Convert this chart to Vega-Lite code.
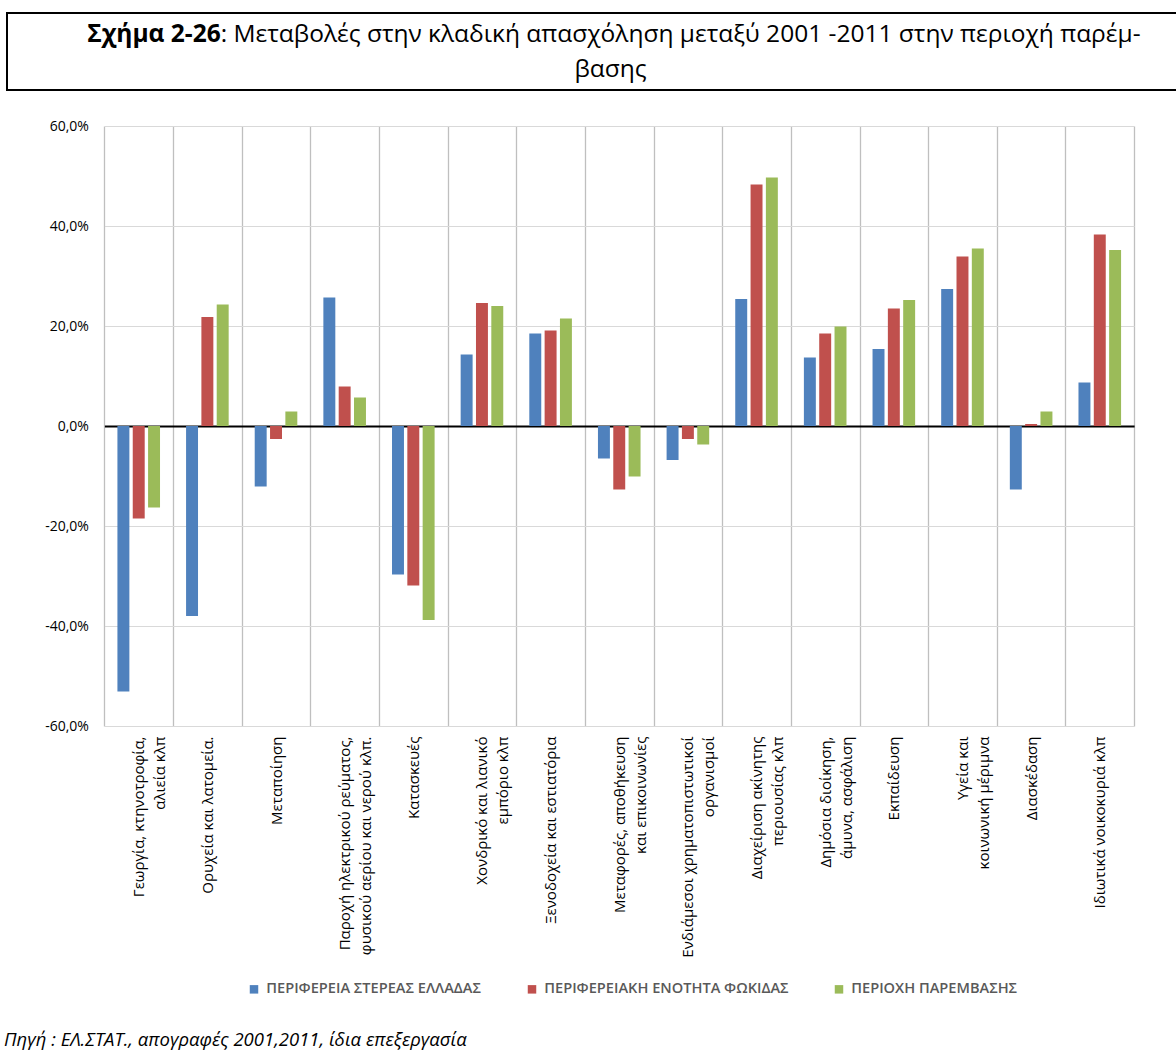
{
  "$schema": "https://vega.github.io/schema/vega-lite/v6.json",
  "padding": {"left": 0, "top": 12, "right": 0, "bottom": 2},
  "background": "white",
  "spacing": 28,
  "title": {
    "text": "Πηγή : ΕΛ.ΣΤΑΤ., απογραφές 2001,2011, ίδια επεξεργασία",
    "orient": "bottom", "anchor": "start", "fontStyle": "italic", "fontWeight": "normal",
    "fontSize": 18.5, "font": "Open Sans", "color": "black", "offset": 35, "dx": 4
  },
  "config": {
    "locale": {"number": {"decimal": ",", "thousands": ".", "grouping": [3], "currency": ["", " €"], "minus": "-"}},
    "font": "Open Sans",
    "view": {"stroke": null}
  },
  "vconcat": [
    {
      "width": 1171,
      "height": 77,
      "view": {"stroke": "black", "strokeWidth": 2},
      "layer": [
        {
          "data": {"values": [{"t": "Σχήμα 2-26"}]},
          "mark": {"type": "text", "fontSize": 24.5, "fontWeight": "bold", "font": "Open Sans", "color": "black", "align": "right", "baseline": "middle", "dy": -17, "dx": -371.8},
          "encoding": {"text": {"field": "t"}}
        },
        {
          "data": {"values": [{"t": ": Μεταβολές στην κλαδική απασχόληση μεταξύ 2001 -2011 στην περιοχή παρέμ-"}]},
          "mark": {"type": "text", "fontSize": 24.5, "font": "Open Sans", "color": "black", "align": "left", "baseline": "middle", "dy": -17, "dx": -371.8},
          "encoding": {"text": {"field": "t"}}
        },
        {
          "data": {"values": [{"t": "βασης"}]},
          "mark": {"type": "text", "fontSize": 24.5, "font": "Open Sans", "color": "black", "align": "center", "baseline": "middle", "dy": 18, "dx": 18},
          "encoding": {"text": {"field": "t"}}
        }
      ]
    },
    {
      "width": 1131,
      "height": 600,
      "data": {"values": [
        {"cat": "Γεωργία, κτηνοτροφία,|αλιεία κλπ", "series": "ΠΕΡΙΦΕΡΕΙΑ ΣΤΕΡΕΑΣ ΕΛΛΑΔΑΣ", "value": -0.531},
        {"cat": "Γεωργία, κτηνοτροφία,|αλιεία κλπ", "series": "ΠΕΡΙΦΕΡΕΙΑΚΗ ΕΝΟΤΗΤΑ ΦΩΚΙΔΑΣ", "value": -0.185},
        {"cat": "Γεωργία, κτηνοτροφία,|αλιεία κλπ", "series": "ΠΕΡΙΟΧΗ ΠΑΡΕΜΒΑΣΗΣ", "value": -0.163},
        {"cat": "Ορυχεία και λατομεία.", "series": "ΠΕΡΙΦΕΡΕΙΑ ΣΤΕΡΕΑΣ ΕΛΛΑΔΑΣ", "value": -0.380},
        {"cat": "Ορυχεία και λατομεία.", "series": "ΠΕΡΙΦΕΡΕΙΑΚΗ ΕΝΟΤΗΤΑ ΦΩΚΙΔΑΣ", "value": 0.218},
        {"cat": "Ορυχεία και λατομεία.", "series": "ΠΕΡΙΟΧΗ ΠΑΡΕΜΒΑΣΗΣ", "value": 0.243},
        {"cat": "Μεταποίηση", "series": "ΠΕΡΙΦΕΡΕΙΑ ΣΤΕΡΕΑΣ ΕΛΛΑΔΑΣ", "value": -0.121},
        {"cat": "Μεταποίηση", "series": "ΠΕΡΙΦΕΡΕΙΑΚΗ ΕΝΟΤΗΤΑ ΦΩΚΙΔΑΣ", "value": -0.026},
        {"cat": "Μεταποίηση", "series": "ΠΕΡΙΟΧΗ ΠΑΡΕΜΒΑΣΗΣ", "value": 0.029},
        {"cat": "Παροχή ηλεκτρικού ρεύματος,|φυσικού αερίου και νερού κλπ.", "series": "ΠΕΡΙΦΕΡΕΙΑ ΣΤΕΡΕΑΣ ΕΛΛΑΔΑΣ", "value": 0.257},
        {"cat": "Παροχή ηλεκτρικού ρεύματος,|φυσικού αερίου και νερού κλπ.", "series": "ΠΕΡΙΦΕΡΕΙΑΚΗ ΕΝΟΤΗΤΑ ΦΩΚΙΔΑΣ", "value": 0.079},
        {"cat": "Παροχή ηλεκτρικού ρεύματος,|φυσικού αερίου και νερού κλπ.", "series": "ΠΕΡΙΟΧΗ ΠΑΡΕΜΒΑΣΗΣ", "value": 0.057},
        {"cat": "Κατασκευές", "series": "ΠΕΡΙΦΕΡΕΙΑ ΣΤΕΡΕΑΣ ΕΛΛΑΔΑΣ", "value": -0.297},
        {"cat": "Κατασκευές", "series": "ΠΕΡΙΦΕΡΕΙΑΚΗ ΕΝΟΤΗΤΑ ΦΩΚΙΔΑΣ", "value": -0.319},
        {"cat": "Κατασκευές", "series": "ΠΕΡΙΟΧΗ ΠΑΡΕΜΒΑΣΗΣ", "value": -0.388},
        {"cat": "Χονδρικό και λιανικό|εμπόριο κλπ", "series": "ΠΕΡΙΦΕΡΕΙΑ ΣΤΕΡΕΑΣ ΕΛΛΑΔΑΣ", "value": 0.143},
        {"cat": "Χονδρικό και λιανικό|εμπόριο κλπ", "series": "ΠΕΡΙΦΕΡΕΙΑΚΗ ΕΝΟΤΗΤΑ ΦΩΚΙΔΑΣ", "value": 0.246},
        {"cat": "Χονδρικό και λιανικό|εμπόριο κλπ", "series": "ΠΕΡΙΟΧΗ ΠΑΡΕΜΒΑΣΗΣ", "value": 0.240},
        {"cat": "Ξενοδοχεία και εστιατόρια", "series": "ΠΕΡΙΦΕΡΕΙΑ ΣΤΕΡΕΑΣ ΕΛΛΑΔΑΣ", "value": 0.185},
        {"cat": "Ξενοδοχεία και εστιατόρια", "series": "ΠΕΡΙΦΕΡΕΙΑΚΗ ΕΝΟΤΗΤΑ ΦΩΚΙΔΑΣ", "value": 0.191},
        {"cat": "Ξενοδοχεία και εστιατόρια", "series": "ΠΕΡΙΟΧΗ ΠΑΡΕΜΒΑΣΗΣ", "value": 0.215},
        {"cat": "Μεταφορές, αποθήκευση|και επικοινωνίες", "series": "ΠΕΡΙΦΕΡΕΙΑ ΣΤΕΡΕΑΣ ΕΛΛΑΔΑΣ", "value": -0.065},
        {"cat": "Μεταφορές, αποθήκευση|και επικοινωνίες", "series": "ΠΕΡΙΦΕΡΕΙΑΚΗ ΕΝΟΤΗΤΑ ΦΩΚΙΔΑΣ", "value": -0.127},
        {"cat": "Μεταφορές, αποθήκευση|και επικοινωνίες", "series": "ΠΕΡΙΟΧΗ ΠΑΡΕΜΒΑΣΗΣ", "value": -0.101},
        {"cat": "Ενδιάμεσοι χρηματοπιστωτικοί|οργανισμοί", "series": "ΠΕΡΙΦΕΡΕΙΑ ΣΤΕΡΕΑΣ ΕΛΛΑΔΑΣ", "value": -0.068},
        {"cat": "Ενδιάμεσοι χρηματοπιστωτικοί|οργανισμοί", "series": "ΠΕΡΙΦΕΡΕΙΑΚΗ ΕΝΟΤΗΤΑ ΦΩΚΙΔΑΣ", "value": -0.026},
        {"cat": "Ενδιάμεσοι χρηματοπιστωτικοί|οργανισμοί", "series": "ΠΕΡΙΟΧΗ ΠΑΡΕΜΒΑΣΗΣ", "value": -0.037},
        {"cat": "Διαχείριση ακίνητης|περιουσίας κλπ", "series": "ΠΕΡΙΦΕΡΕΙΑ ΣΤΕΡΕΑΣ ΕΛΛΑΔΑΣ", "value": 0.254},
        {"cat": "Διαχείριση ακίνητης|περιουσίας κλπ", "series": "ΠΕΡΙΦΕΡΕΙΑΚΗ ΕΝΟΤΗΤΑ ΦΩΚΙΔΑΣ", "value": 0.483},
        {"cat": "Διαχείριση ακίνητης|περιουσίας κλπ", "series": "ΠΕΡΙΟΧΗ ΠΑΡΕΜΒΑΣΗΣ", "value": 0.497},
        {"cat": "Δημόσια διοίκηση,|άμυνα, ασφάλιση", "series": "ΠΕΡΙΦΕΡΕΙΑ ΣΤΕΡΕΑΣ ΕΛΛΑΔΑΣ", "value": 0.137},
        {"cat": "Δημόσια διοίκηση,|άμυνα, ασφάλιση", "series": "ΠΕΡΙΦΕΡΕΙΑΚΗ ΕΝΟΤΗΤΑ ΦΩΚΙΔΑΣ", "value": 0.185},
        {"cat": "Δημόσια διοίκηση,|άμυνα, ασφάλιση", "series": "ΠΕΡΙΟΧΗ ΠΑΡΕΜΒΑΣΗΣ", "value": 0.199},
        {"cat": "Εκπαίδευση", "series": "ΠΕΡΙΦΕΡΕΙΑ ΣΤΕΡΕΑΣ ΕΛΛΑΔΑΣ", "value": 0.154},
        {"cat": "Εκπαίδευση", "series": "ΠΕΡΙΦΕΡΕΙΑΚΗ ΕΝΟΤΗΤΑ ΦΩΚΙΔΑΣ", "value": 0.235},
        {"cat": "Εκπαίδευση", "series": "ΠΕΡΙΟΧΗ ΠΑΡΕΜΒΑΣΗΣ", "value": 0.252},
        {"cat": "Υγεία και|κοινωνική μέριμνα", "series": "ΠΕΡΙΦΕΡΕΙΑ ΣΤΕΡΕΑΣ ΕΛΛΑΔΑΣ", "value": 0.274},
        {"cat": "Υγεία και|κοινωνική μέριμνα", "series": "ΠΕΡΙΦΕΡΕΙΑΚΗ ΕΝΟΤΗΤΑ ΦΩΚΙΔΑΣ", "value": 0.339},
        {"cat": "Υγεία και|κοινωνική μέριμνα", "series": "ΠΕΡΙΟΧΗ ΠΑΡΕΜΒΑΣΗΣ", "value": 0.355},
        {"cat": "Διασκέδαση", "series": "ΠΕΡΙΦΕΡΕΙΑ ΣΤΕΡΕΑΣ ΕΛΛΑΔΑΣ", "value": -0.127},
        {"cat": "Διασκέδαση", "series": "ΠΕΡΙΦΕΡΕΙΑΚΗ ΕΝΟΤΗΤΑ ΦΩΚΙΔΑΣ", "value": 0.004},
        {"cat": "Διασκέδαση", "series": "ΠΕΡΙΟΧΗ ΠΑΡΕΜΒΑΣΗΣ", "value": 0.029},
        {"cat": "Ιδιωτικά νοικοκυριά κλπ", "series": "ΠΕΡΙΦΕΡΕΙΑ ΣΤΕΡΕΑΣ ΕΛΛΑΔΑΣ", "value": 0.087},
        {"cat": "Ιδιωτικά νοικοκυριά κλπ", "series": "ΠΕΡΙΦΕΡΕΙΑΚΗ ΕΝΟΤΗΤΑ ΦΩΚΙΔΑΣ", "value": 0.383},
        {"cat": "Ιδιωτικά νοικοκυριά κλπ", "series": "ΠΕΡΙΟΧΗ ΠΑΡΕΜΒΑΣΗΣ", "value": 0.352}
      ]},
      "mark": {"type": "bar"},
      "encoding": {
        "x": {
          "field": "cat", "type": "nominal", "sort": null,
          "scale": {"paddingInner": 0, "paddingOuter": 0, "range": [97.4, 1127.1]},
          "axis": {
            "title": null, "labelAngle": -90, "labelAlign": "right", "labelBaseline": "middle",
            "labelExpr": "split(datum.label, '|')", "labelFontSize": 15, "labelLineHeight": 21,
            "labelPadding": 10, "labelColor": "black", "labelLimit": 400,
            "domain": false, "ticks": false, "grid": true, "gridColor": "#BFBFBF", "gridWidth": 1.3,
            "tickBand": "extent"
          }
        },
        "xOffset": {"field": "series", "type": "nominal", "sort": null, "scale": {"paddingInner": 0.22, "paddingOuter": 0.85}},
        "y": {
          "field": "value", "type": "quantitative",
          "scale": {"domain": [-0.6, 0.6], "nice": false},
          "axis": {
            "title": null, "format": ".1%", "values": [-0.6, -0.4, -0.2, 0, 0.2, 0.4, 0.6],
            "offset": -97.4,
            "labelFontSize": 14, "labelColor": "black", "labelPadding": 16,
            "domain": false, "ticks": false, "grid": true,
            "gridColor": {"condition": {"test": "datum.value === 0", "value": "black"}, "value": "#D9D9D9"},
            "gridWidth": {"condition": {"test": "datum.value === 0", "value": 2}, "value": 1}
          }
        },
        "color": {
          "field": "series", "type": "nominal", "sort": null,
          "scale": {
            "domain": ["ΠΕΡΙΦΕΡΕΙΑ ΣΤΕΡΕΑΣ ΕΛΛΑΔΑΣ", "ΠΕΡΙΦΕΡΕΙΑΚΗ ΕΝΟΤΗΤΑ ΦΩΚΙΔΑΣ", "ΠΕΡΙΟΧΗ ΠΑΡΕΜΒΑΣΗΣ"],
            "range": ["#4F81BD", "#C0504D", "#9BBB59"]
          },
          "legend": {
            "title": null, "orient": "none", "legendX": 239.7, "legendY": 969, "direction": "horizontal", "symbolType": "square",
            "symbolSize": 72, "symbolStrokeWidth": 0, "labelFontSize": 14.6, "labelFontWeight": 600,
            "labelColor": "#595959", "columnPadding": 43, "labelOffset": 5, "labelLimit": 400
          }
        }
      }
    }
  ]
}
